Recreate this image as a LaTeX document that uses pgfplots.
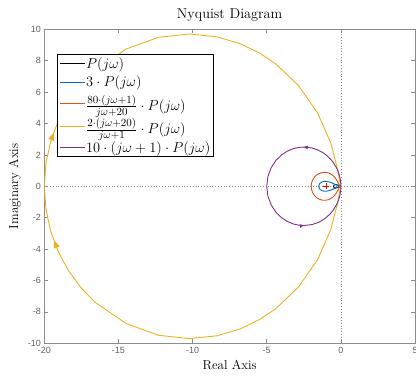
\documentclass[border=0pt]{standalone}
\usepackage{pgfplots}
\pgfplotsset{compat=1.18}
\usepackage{fontspec}
\newfontfamily\ticksans{Liberation Sans}
\usetikzlibrary{decorations.markings,arrows.meta}
\definecolor{mblue}{RGB}{0,114,189}
\definecolor{morange}{RGB}{217,83,25}
\definecolor{myellow}{RGB}{237,177,32}
\definecolor{mpurple}{RGB}{126,47,142}
\definecolor{axgray}{RGB}{140,140,140}
\definecolor{tickgray}{RGB}{95,95,95}
\begin{document}
\begin{tikzpicture}
\begin{axis}[name=ax, scale only axis, width=370.7pt, height=314pt,
  xmin=-20, xmax=5, ymin=-10, ymax=10,
  xtick={-20,-15,...,5}, ytick={-10,-8,...,10},
  axis line style={axgray, line width=0.6pt},
  major tick style={axgray, line width=0.6pt},
  major tick length=4pt, tick align=inside,
  ticklabel style={font=\ticksans\fontsize{9}{9}\selectfont, text=tickgray},
  /pgf/number format/assume math mode=true,
  title={Nyquist Diagram},
  title style={font=\fontsize{14.3}{16}\selectfont, yshift=-2pt},
  xlabel={Real Axis}, ylabel={Imaginary Axis},
  label style={font=\fontsize{13}{15}\selectfont},
  legend style={at={(0.034,0.921)}, anchor=north west, draw=black, fill=white,
    line width=0.6pt, font=\fontsize{15.3}{17}\selectfont, row sep=4.5pt,
    inner xsep=2pt, inner ysep=2pt, nodes={inner sep=1pt}},
  legend cell align=left,
  legend image code/.code={\draw[#1] (0pt,0pt) -- (25pt,0pt);},
]
\addlegendimage{draw=black, line width=0.9pt}
\addlegendentry{$P(j\omega)$}
\addlegendimage{draw=mblue, line width=0.9pt}
\addlegendentry{$3\cdot P(j\omega)$}
\addlegendimage{draw=morange, line width=0.9pt}
\addlegendentry{$\frac{80\cdot(j\omega+1)}{j\omega+20}\cdot P(j\omega)$}
\addlegendimage{draw=myellow, line width=0.9pt}
\addlegendentry{$\frac{2\cdot(j\omega+20)}{j\omega+1}\cdot P(j\omega)$}
\addlegendimage{draw=mpurple, line width=0.9pt}
\addlegendentry{$10\cdot(j\omega+1)\cdot P(j\omega)$}

% zero lines
\addplot[forget plot, axgray, line width=0.6pt, dash pattern=on 0.8pt off 2pt] coordinates {(-20,0) (5,0)};
\addplot[forget plot, axgray, line width=0.6pt, dash pattern=on 0.8pt off 2pt] coordinates {(0,-10) (0,10)};

% P(jw)
\addplot[forget plot, black, line width=0.9pt] coordinates {
(0,0) (-0.0097,-0.00095) (-0.0257,-0.0041) (-0.0529,-0.0118) (-0.0846,-0.0231) (-0.111,-0.0336)
(-0.15,-0.05) (-0.2092,-0.0738) (-0.2499,-0.0877) (-0.3,-0.1) (-0.3595,-0.1052) (-0.4235,-0.0941)
(-0.4778,-0.0579) (-0.5,0)
(-0.4778,0.0579) (-0.4235,0.0941) (-0.3595,0.1052) (-0.3,0.1) (-0.2499,0.0877) (-0.2092,0.0738)
(-0.15,0.05) (-0.111,0.0336) (-0.0846,0.0231) (-0.0529,0.0118) (-0.0257,0.0041) (-0.0097,0.00095) (0,0)};

% 3 P(jw)
\addplot[forget plot, mblue, line width=0.9pt] coordinates {
(0,0) (-0.0291,-0.0029) (-0.0771,-0.0123) (-0.1587,-0.0354) (-0.2538,-0.0693) (-0.333,-0.1008)
(-0.45,-0.15) (-0.6276,-0.2214) (-0.7497,-0.2631) (-0.9,-0.3) (-1.0785,-0.3156) (-1.2705,-0.2823)
(-1.4334,-0.1737) (-1.5,0)
(-1.4334,0.1737) (-1.2705,0.2823) (-1.0785,0.3156) (-0.9,0.3) (-0.7497,0.2631) (-0.6276,0.2214)
(-0.45,0.15) (-0.333,0.1008) (-0.2538,0.0693) (-0.1587,0.0354) (-0.0771,0.0123) (-0.0291,0.0029) (0,0)};

% lead
\addplot[forget plot, morange, line width=0.9pt] coordinates {
(0,0) (-0.0077,0.0014) (-0.028,0.0099) (-0.064,0.037) (-0.109,0.089) (-0.148,0.151) (-0.215,0.277)
(-0.299,0.424) (-0.422,0.584) (-0.538,0.692) (-0.737,0.8125) (-0.889,0.865) (-1.089,0.891)
(-1.210,0.885) (-1.344,0.859) (-1.489,0.806) (-1.636,0.718) (-1.776,0.591) (-1.893,0.423) (-1.972,0.2215) (-2,0)
(-1.972,-0.2215) (-1.893,-0.423) (-1.776,-0.591) (-1.636,-0.718) (-1.489,-0.806) (-1.344,-0.859)
(-1.210,-0.885) (-1.089,-0.891) (-0.889,-0.865) (-0.737,-0.8125) (-0.538,-0.692) (-0.422,-0.584)
(-0.299,-0.424) (-0.215,-0.277) (-0.148,-0.151) (-0.109,-0.089) (-0.064,-0.037) (-0.028,-0.0099) (-0.0077,-0.0014) (0,0)};

% lag, upper branch
\addplot[forget plot, myellow, line width=0.9pt, postaction={decorate},
  decoration={markings, mark=at position 55pt with {\arrow{Triangle[length=8pt,width=6pt]}}}] coordinates {
(-20,0) (-19.892,1.443) (-19.571,2.846) (-19.055,4.170) (-18.364,5.383) (-17.528,6.460) (-16.578,7.384)
(-14.473,8.746) (-12.29,9.49) (-10.221,9.701) (-8.367,9.523) (-6.778,9.081) (-5.468,8.476)
(-4.396,7.802) (-2.869,6.430) (-1.573,4.680) (-0.680,2.760) (-0.228,1.098) (-0.0755,0.2847) (-0.0195,0.0388) (0,0)};
% lag, lower branch
\addplot[forget plot, myellow, line width=0.9pt, postaction={decorate},
  decoration={markings, mark=at position 55pt with {\arrowreversed{Triangle[length=8pt,width=6pt]}}}] coordinates {
(-20,0) (-19.892,-1.443) (-19.571,-2.846) (-19.055,-4.170) (-18.364,-5.383) (-17.528,-6.460) (-16.578,-7.384)
(-14.473,-8.746) (-12.29,-9.49) (-10.221,-9.701) (-8.367,-9.523) (-6.778,-9.081) (-5.468,-8.476)
(-4.396,-7.802) (-2.869,-6.430) (-1.573,-4.680) (-0.680,-2.760) (-0.228,-1.098) (-0.0755,-0.2847) (-0.0195,-0.0388) (0,0)};

% PD, upper branch
\addplot[forget plot, mpurple, line width=0.9pt, postaction={decorate},
  decoration={markings, mark=at position 0.5 with {\arrowreversed{Triangle[length=4pt,width=3.5pt]}}}] coordinates {
(-5,0) (-4.923,0.615) (-4.706,1.176) (-4.384,1.644) (-4,2) (-3.596,2.247) (-3.2,2.4) (-2.832,2.478)
(-2.5,2.5) (-1.951,2.439) (-1.538,2.308) (-1.231,2.154) (-1,2) (-0.690,1.724) (-0.5,1.5) (-0.294,1.176)
(-0.192,0.962) (-0.1,0.7) (-0.0495,0.495) (-0.0221,0.332) (-0.008,0.1997) (-0.002,0.1) (0,0)};
% PD, lower branch
\addplot[forget plot, mpurple, line width=0.9pt, postaction={decorate},
  decoration={markings, mark=at position 0.5 with {\arrow{Triangle[length=4pt,width=3.5pt]}}}] coordinates {
(-5,0) (-4.923,-0.615) (-4.706,-1.176) (-4.384,-1.644) (-4,-2) (-3.596,-2.247) (-3.2,-2.4) (-2.832,-2.478)
(-2.5,-2.5) (-1.951,-2.439) (-1.538,-2.308) (-1.231,-2.154) (-1,-2) (-0.690,-1.724) (-0.5,-1.5) (-0.294,-1.176)
(-0.192,-0.962) (-0.1,-0.7) (-0.0495,-0.495) (-0.0221,-0.332) (-0.008,-0.1997) (-0.002,-0.1) (0,0)};

% critical point
\addplot[forget plot, red, only marks, mark=+, mark size=3pt, line width=0.8pt] coordinates {(-1,0)};
\end{axis}
\pgfresetboundingbox
\path ([xshift=-44.3pt,yshift=-32.7pt]ax.south west) rectangle ([xshift=1pt,yshift=29.3pt]ax.north east);
\end{tikzpicture}
\end{document}
